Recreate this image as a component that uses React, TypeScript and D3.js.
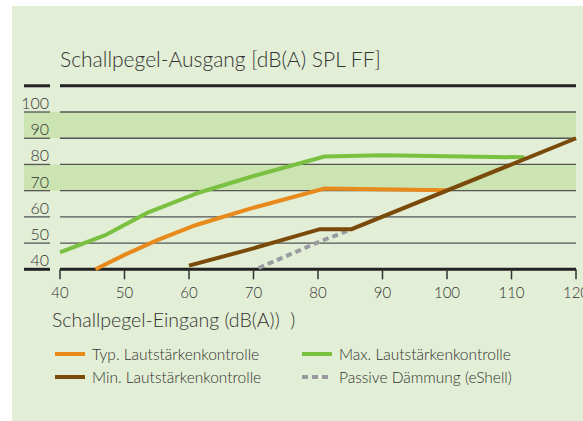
import React from 'react';
import * as d3 from 'd3';

// Eingang (dB(A)) -> Ausgang (dB(A) SPL FF)
const typX = [45.5, 50, 55, 61, 70, 81, 100];
const typY = [40, 45.5, 51, 56.8, 63.5, 70.8, 70.2];

const maxX = [40, 47, 53.5, 61.5, 70, 81, 90, 112];
const maxY = [46.5, 53, 61.5, 69.2, 75.6, 83, 83.5, 82.7];

const minX = [60, 70, 80.3, 85.2, 120];
const minY = [41.4, 48, 55.3, 55.3, 90];

const passX = [70.8, 80, 84.5];
const passY = [40.5, 50.3, 54.6];

const xTicks = [40, 50, 60, 70, 80, 90, 100, 110, 120];
const yTicks = [40, 50, 60, 70, 80, 90, 100];
const bands = [[90, 100], [70, 80]];

const legend = [
  { name: 'Typ. Lautstärkenkontrolle', color: '#e8891c', dash: '' },
  { name: 'Max. Lautstärkenkontrolle', color: '#7ac142', dash: '' },
  { name: 'Min. Lautstärkenkontrolle', color: '#7a4a0a', dash: '' },
  { name: 'Passive Dämmung (eShell)', color: '#9a9aa0', dash: '6,4' },
];

const App = () => {
  const x = d3.scaleLinear().domain([40, 120]).range([60, 576]);
  const y = d3.scaleLinear().domain([40, 110]).range([269.3, 85.8]);

  const line = d3
    .line<[number, number]>()
    .x(d => x(d[0]))
    .y(d => y(d[1]));

  const pts = (xs: number[], ys: number[]) => xs.map((v, i) => [v, ys[i]] as [number, number]);

  const series = [
    { d: pts(maxX, maxY), color: legend[1].color, dash: '' },
    { d: pts(typX, typY), color: legend[0].color, dash: '' },
    { d: pts(passX, passY), color: legend[3].color, dash: '6,4' },
    { d: pts(minX, minY), color: legend[2].color, dash: '' },
  ];

  const font = 'Lato, sans-serif';
  const fw = 300;

  return (
    <svg width={583} height={421} style={{ position: 'absolute', left: 0, top: 0 }}>
      <rect x={12} y={6} width={571} height={415} fill="#e2eed5" />

      {/* Bänder */}
      {bands.map(b => (
        <rect key={b[0]} x={24} y={y(b[1])} width={552} height={y(b[0]) - y(b[1])} fill="#cce3b2" />
      ))}

      <text x={60} y={67} fontFamily={font} fontWeight={fw} fontSize={21} fill="#333">
        Schallpegel-Ausgang [dB(A) SPL FF]
      </text>

      {/* Gitterlinien */}
      {[...yTicks, 110].map(t => {
        const thick = t === 40 || t === 110;
        const sw = thick ? 3 : 1.3;
        const c = thick ? '#222' : '#555';
        return (
          <g key={t}>
            <line x1={24} x2={50} y1={y(t)} y2={y(t)} stroke={c} strokeWidth={sw} />
            <line x1={60} x2={576} y1={y(t)} y2={y(t)} stroke={c} strokeWidth={sw} />
          </g>
        );
      })}
      {yTicks.map(t => (
        <text key={t} x={49} y={y(t) - 3} textAnchor="end" fontFamily={font} fontWeight={fw} fontSize={16} fill="#333">
          {t}
        </text>
      ))}

      {/* X-Achse */}
      {xTicks.map(t => (
        <g key={t}>
          <line x1={x(t)} x2={x(t)} y1={y(40)} y2={y(40) + 10} stroke="#333" strokeWidth={1.5} />
          <text x={x(t)} y={298} textAnchor="middle" fontFamily={font} fontWeight={fw} fontSize={15} fill="#333">
            {t}
          </text>
        </g>
      ))}

      {series.map((s, i) => (
        <path
          key={i}
          d={line(s.d) || ''}
          fill="none"
          stroke={s.color}
          strokeWidth={4}
          strokeDasharray={s.dash}
        />
      ))}

      <text x={52} y={327} fontFamily={font} fontWeight={fw} fontSize={19.5} fill="#333" style={{ whiteSpace: 'pre' }}>
        {'Schallpegel-Eingang (dB(A))  )'}
      </text>

      {legend.map((l, i) => {
        const lx = i % 2 === 0 ? 55 : 302;
        const ly = i < 2 ? 354 : 377;
        return (
          <g key={l.name}>
            <line x1={lx} x2={lx + 30} y1={ly} y2={ly} stroke={l.color} strokeWidth={4} strokeDasharray={l.dash} />
            <text x={lx + 37} y={ly + 6} fontFamily={font} fontWeight={fw} fontSize={15.5} fill="#333">
              {l.name}
            </text>
          </g>
        );
      })}
    </svg>
  );
};

export default App;
